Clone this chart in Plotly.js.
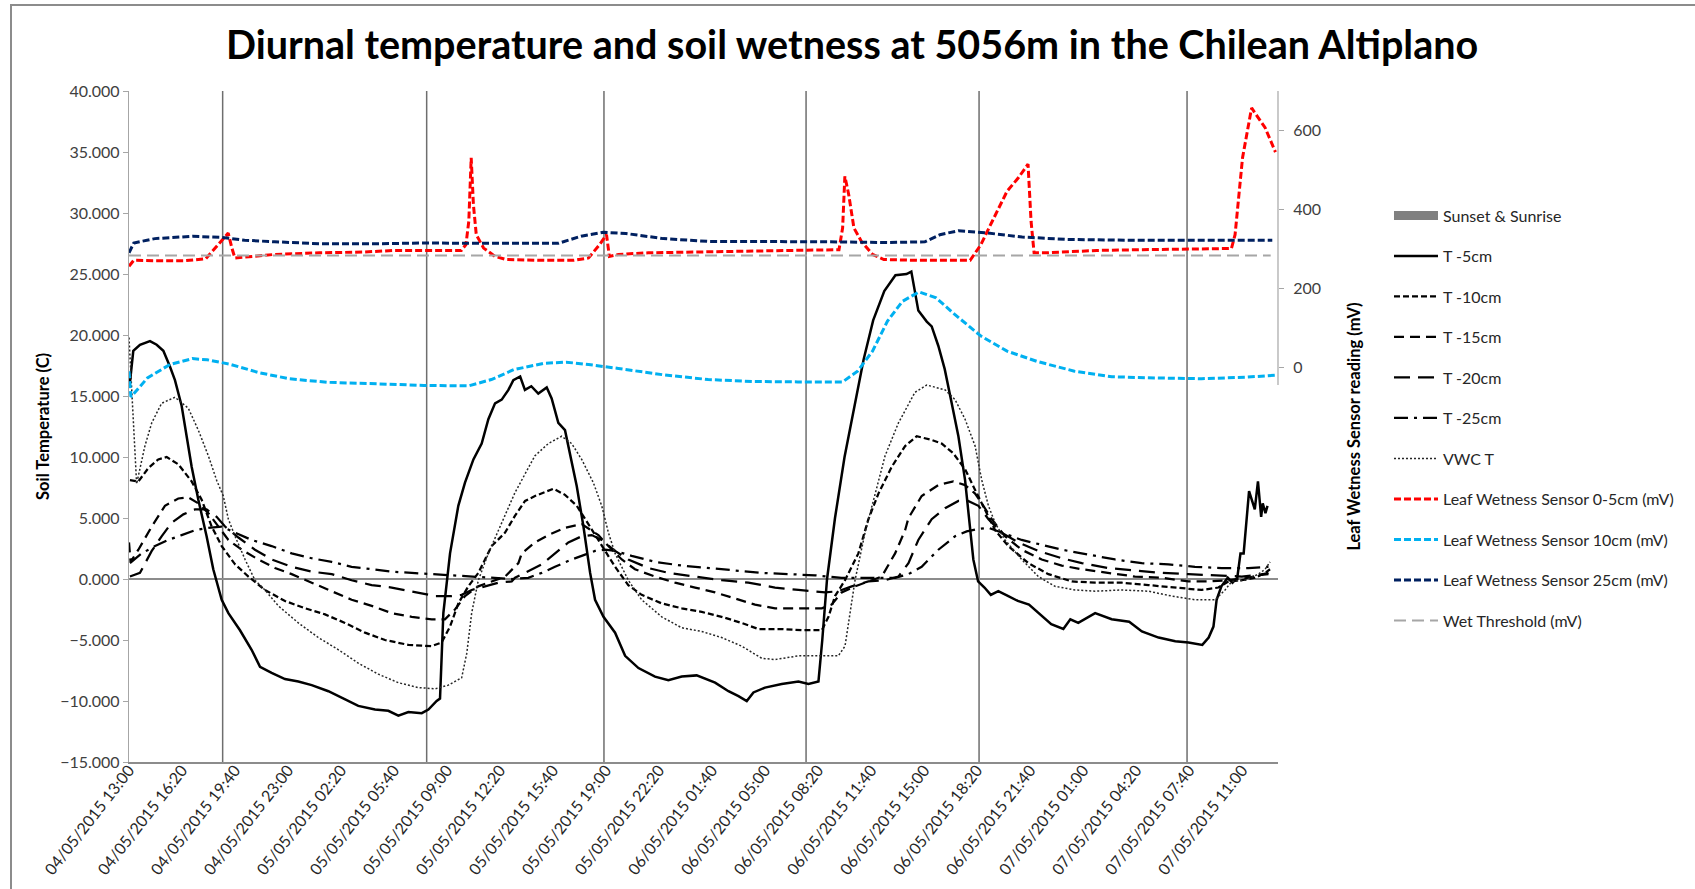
<!DOCTYPE html>
<html><head><meta charset="utf-8">
<script src="https://cdn.plot.ly/plotly-3.0.1.min.js"></script>
<style>
html,body{margin:0;padding:0;background:#fff;}
#frame{position:absolute;left:10px;top:4px;width:1690px;height:890px;border-left:2px solid #8c8c8c;border-top:2px solid #8c8c8c;box-sizing:border-box;}
#chart{position:absolute;left:0;top:0;width:1695px;height:889px;}
</style></head><body>
<div id="frame"></div>
<div id="chart"></div>
<script>
// x values: hours since 04/05/2015 13:00
const tickLabels = ["04/05/2015 13:00","04/05/2015 16:20","04/05/2015 19:40","04/05/2015 23:00","05/05/2015 02:20","05/05/2015 05:40","05/05/2015 09:00","05/05/2015 12:20","05/05/2015 15:40","05/05/2015 19:00","05/05/2015 22:20","06/05/2015 01:40","06/05/2015 05:00","06/05/2015 08:20","06/05/2015 11:40","06/05/2015 15:00","06/05/2015 18:20","06/05/2015 21:40","07/05/2015 01:00","07/05/2015 04:20","07/05/2015 07:40","07/05/2015 11:00"];
const tickHours = [0,3.333,6.667,10,13.333,16.667,20,23.333,26.667,30,33.333,36.667,40,43.333,46.667,50,53.333,56.667,60,63.333,66.667,70];

const sunsetSunrise = [5.89, 18.72, 29.87, 42.58, 53.46, 66.54];

const t5cm = [[0.05,16.0],[0.27,18.7],[0.69,19.2],[1.32,19.5],[1.74,19.2],[2.16,18.7],[2.58,17.4],[2.89,16.3],[3.31,14.2],[3.63,11.7],[3.94,9.2],[4.36,6.5],[4.88,3.5],[5.30,0.8],[5.83,-1.7],[6.25,-2.8],[6.98,-4.2],[7.71,-5.8],[8.24,-7.2],[8.97,-7.7],[9.81,-8.2],[10.65,-8.4],[11.49,-8.7],[12.54,-9.2],[13.58,-9.9],[14.42,-10.4],[15.47,-10.7],[16.31,-10.8],[16.94,-11.2],[17.57,-10.9],[18.41,-11.0],[18.83,-10.7],[19.35,-10.0],[19.56,-9.8],[19.77,-2.8],[20.19,2.1],[20.71,6.0],[21.13,7.9],[21.66,9.8],[22.18,11.1],[22.60,13.1],[23.02,14.4],[23.44,14.7],[23.86,15.5],[24.17,16.3],[24.6,16.6],[24.9,15.5],[25.3,15.8],[25.74,15.2],[26.27,15.7],[26.58,14.8],[27.0,12.8],[27.42,12.2],[27.74,10.1],[28.16,7.6],[28.58,4.3],[29.0,0.5],[29.31,-1.7],[29.84,-3.1],[30.57,-4.4],[31.2,-6.3],[32.04,-7.3],[33.08,-8.0],[33.92,-8.3],[34.76,-8.0],[35.7,-7.9],[36.86,-8.5],[37.7,-9.2],[38.33,-9.6],[38.85,-10.0],[39.27,-9.3],[40.0,-8.9],[41.05,-8.6],[42.1,-8.4],[42.73,-8.6],[43.36,-8.4],[43.6,-5.0],[43.9,0.0],[44.4,5.0],[45.0,10.0],[45.6,14.0],[46.2,18.0],[46.8,21.2],[47.5,23.6],[48.2,24.9],[48.9,25.0],[49.2,25.2],[49.64,22.0],[50.17,21.1],[50.48,20.7],[50.9,19.1],[51.3,17.2],[51.74,14.4],[52.16,11.7],[52.58,8.1],[52.9,4.3],[53.1,1.6],[53.4,-0.2],[53.8,-0.7],[54.2,-1.3],[54.67,-1.0],[55.3,-1.4],[55.9,-1.8],[56.6,-2.1],[57.2,-2.8],[58.0,-3.7],[58.76,-4.1],[59.2,-3.3],[59.7,-3.6],[60.76,-2.8],[61.8,-3.3],[62.9,-3.5],[63.7,-4.3],[64.75,-4.8],[65.8,-5.1],[66.63,-5.2],[67.5,-5.4],[67.9,-4.8],[68.2,-3.9],[68.4,-1.7],[68.7,-0.6],[69.1,0.1],[69.4,-0.3],[69.7,0.1],[69.9,2.1],[70.1,2.1],[70.44,7.2],[70.8,5.7],[71.0,8.0],[71.2,5.1],[71.3,6.2],[71.47,5.4],[71.6,6.0]];

const t10cm = [[0.06,8.1],[0.59,8.0],[1.22,9.1],[1.84,9.8],[2.37,10.0],[3.1,9.4],[3.94,8.0],[4.57,6.5],[5.2,4.3],[5.83,2.7],[6.67,1.2],[7.51,0.2],[8.55,-0.9],[9.81,-1.8],[11.07,-2.4],[12.33,-2.9],[13.58,-3.6],[14.84,-4.4],[16.1,-5.0],[17.57,-5.4],[19.04,-5.5],[19.66,-5.2],[20.19,-3.9],[20.71,-2.0],[21.34,-0.6],[21.97,0.5],[22.81,2.7],[23.65,3.8],[24.28,5.2],[24.91,6.4],[25.53,6.8],[26.69,7.4],[27.42,6.9],[28.16,6.0],[28.89,4.5],[29.73,2.7],[30.57,1.0],[31.4,-0.5],[32.24,-1.3],[33.5,-2.0],[34.76,-2.4],[36.02,-2.7],[37.27,-3.1],[38.53,-3.6],[39.58,-4.1],[41.05,-4.1],[42.31,-4.2],[43.57,-4.2],[43.99,-3.1],[44.4,-1.4],[45.03,-0.1],[45.87,2.1],[46.5,4.9],[47.13,7.0],[47.97,9.2],[48.81,10.9],[49.54,11.7],[50.48,11.4],[51.11,11.1],[51.84,10.3],[52.58,9.0],[53.21,7.3],[53.84,5.7],[54.47,4.0],[55.3,2.7],[56.56,1.3],[57.82,0.4],[59.29,-0.2],[60.76,-0.3],[62.43,-0.3],[64.11,-0.5],[66.0,-0.7],[67.46,-0.9],[68.51,-0.7],[69.14,-0.2],[69.98,-0.1],[70.82,0.1],[71.45,0.5],[71.76,0.8]];

const t15cm = [[0.0,3.0],[0.1,1.4],[0.59,2.4],[1.43,4.3],[2.26,6.0],[3.1,6.6],[3.73,6.7],[4.36,6.2],[4.99,5.4],[5.62,4.3],[6.25,3.2],[7.09,2.4],[8.13,1.6],[9.18,0.9],[10.23,0.4],[11.49,-0.3],[12.75,-1.0],[14.0,-1.7],[15.26,-2.2],[16.52,-2.8],[17.78,-3.1],[19.04,-3.3],[19.87,-3.3],[20.5,-2.5],[21.13,-1.4],[21.97,-0.6],[22.81,-0.2],[23.65,0.2],[24.49,1.3],[24.7,2.1],[25.53,3.0],[26.37,3.6],[27.42,4.2],[28.47,4.5],[29.52,3.6],[30.15,2.7],[30.99,1.6],[31.82,0.8],[33.08,0.2],[34.34,-0.3],[35.6,-0.7],[36.86,-1.1],[38.11,-1.6],[39.37,-2.1],[40.63,-2.4],[42.1,-2.4],[43.57,-2.4],[44.19,-2.1],[44.82,-1.1],[45.66,-0.6],[46.5,-0.2],[47.34,0.2],[48.18,2.1],[48.81,4.0],[49.02,5.0],[49.85,6.8],[50.9,7.7],[51.84,8.0],[52.58,7.7],[53.21,7.0],[53.73,6.0],[54.26,4.9],[55.09,3.5],[56.14,2.4],[57.4,1.6],[58.66,1.1],[59.92,0.8],[61.59,0.5],[63.27,0.2],[64.95,0.1],[66.63,-0.2],[67.88,-0.2],[69.14,-0.1],[70.4,0.1],[71.66,0.5]];

const t20cm = [[0.06,0.2],[0.69,0.5],[1.43,2.3],[2.05,3.5],[2.68,4.6],[3.42,5.3],[4.15,5.7],[4.88,5.7],[5.51,5.1],[6.04,4.3],[6.88,3.4],[7.92,2.4],[8.97,1.6],[10.23,1.0],[11.49,0.6],[12.75,0.4],[14.0,-0.1],[15.26,-0.5],[16.52,-0.7],[17.99,-1.1],[19.25,-1.4],[20.29,-1.4],[20.92,-1.3],[21.55,-0.9],[22.39,-0.6],[23.23,-0.3],[24.07,-0.2],[24.28,0.1],[25.95,1.2],[26.79,2.1],[27.63,3.0],[28.47,3.5],[29.1,3.6],[29.73,3.2],[30.57,2.3],[31.4,1.6],[32.66,0.9],[33.92,0.5],[35.6,0.2],[37.27,-0.1],[38.95,-0.3],[40.63,-0.7],[42.1,-0.9],[43.78,-1.1],[44.61,-1.0],[45.45,-0.6],[46.5,-0.2],[47.55,-0.1],[48.39,0.2],[49.02,1.3],[49.64,3.2],[50.48,4.9],[51.32,5.8],[52.16,6.4],[52.77,6.4],[53.42,6.0],[54.05,4.9],[54.88,3.8],[55.93,3.0],[57.19,2.3],[58.66,1.7],[59.92,1.3],[61.59,0.9],[63.27,0.7],[64.95,0.5],[66.63,0.4],[68.3,0.3],[69.98,0.2],[71.66,0.4]];

const t25cm = [[0.06,1.3],[0.8,2.1],[1.64,2.7],[2.47,3.2],[3.31,3.6],[4.15,4.0],[4.99,4.2],[5.83,4.3],[6.67,3.8],[7.71,3.2],[8.97,2.7],[10.23,2.1],[11.49,1.7],[12.75,1.4],[14.0,1.0],[15.26,0.8],[16.52,0.6],[17.78,0.5],[19.04,0.4],[20.29,0.3],[21.55,0.2],[22.81,0.1],[24.07,0.0],[25.11,0.1],[25.95,0.5],[26.79,1.0],[27.84,1.6],[28.68,2.0],[29.31,2.3],[29.94,2.4],[30.57,2.3],[31.61,1.9],[33.08,1.4],[34.76,1.1],[36.44,0.9],[38.11,0.7],[39.79,0.5],[41.47,0.4],[43.15,0.3],[44.82,0.1],[46.5,0.1],[48.18,0.1],[49.02,0.4],[49.85,1.0],[50.9,2.4],[51.95,3.5],[52.68,3.9],[53.42,4.1],[54.05,4.2],[54.88,3.8],[56.14,3.2],[57.4,2.8],[58.66,2.4],[60.34,2.0],[62.01,1.6],[63.69,1.3],[65.37,1.2],[67.04,1.0],[68.72,0.9],[70.4,0.9],[71.66,1.0]];

const vwcT = [[0.0,19.8],[0.48,7.8],[1.0,10.9],[1.43,12.8],[2.05,14.4],[2.89,14.9],[3.73,14.0],[4.36,12.2],[4.99,10.1],[5.51,8.1],[5.93,6.8],[6.25,4.9],[6.67,3.5],[7.30,1.6],[7.92,-0.1],[8.55,-0.9],[9.39,-2.2],[10.65,-3.6],[11.91,-4.8],[13.17,-5.8],[14.42,-6.9],[15.68,-7.8],[16.94,-8.5],[18.2,-8.9],[19.25,-9.0],[20.08,-8.7],[20.92,-8.1],[21.24,-6.1],[21.55,-2.8],[21.97,-0.1],[22.6,2.1],[23.44,4.6],[24.28,7.1],[25.53,10.1],[26.37,11.1],[27.21,11.7],[27.84,11.1],[28.47,9.8],[29.2,7.9],[29.73,6.0],[30.15,3.8],[30.57,2.1],[31.4,-0.1],[32.24,-1.7],[33.5,-3.1],[34.76,-4.0],[36.02,-4.3],[37.27,-4.8],[38.53,-5.5],[39.79,-6.5],[40.63,-6.6],[42.1,-6.3],[43.15,-6.3],[44.61,-6.3],[45.03,-5.5],[45.35,-2.8],[45.66,-0.1],[46.29,3.8],[46.92,7.0],[47.55,10.1],[48.39,12.8],[49.43,15.3],[50.17,15.9],[51.33,15.5],[51.95,14.7],[52.58,13.1],[53.21,10.9],[53.63,8.1],[54.05,6.0],[54.47,4.6],[55.09,3.2],[56.14,1.6],[57.19,0.2],[58.24,-0.6],[59.5,-0.9],[60.76,-1.0],[62.43,-0.9],[64.11,-1.0],[65.58,-1.4],[67.04,-1.7],[68.3,-1.7],[68.93,-0.9],[69.35,-0.2],[70.19,-0.1],[71.03,0.4],[71.45,0.8],[71.76,1.4]];

const leaf05 = [[0,256],[0.3,271],[1.63,270],[3.51,270],[4.83,275],[5.63,311],[6.24,340],[6.47,302],[6.66,277],[7.27,279],[9.15,286],[11.97,290],[14.79,292],[16.67,296],[20.9,296],[21.19,311],[21.37,370],[21.52,531],[21.66,412],[21.84,336],[22.3,302],[23.02,281],[23.73,273],[26.08,271],[27.96,271],[28.9,277],[29.6,311],[30.03,336],[30.21,281],[30.78,286],[32.66,290],[35.48,292],[38.3,294],[41.12,296],[44.65,298],[44.88,353],[45.02,484],[45.26,438],[45.59,353],[46.06,319],[46.76,286],[47.47,273],[49.58,271],[52.9,271],[53.58,311],[54.29,370],[55.22,446],[55.93,480],[56.54,515],[56.73,370],[56.92,290],[57.58,290],[60.87,296],[63.69,298],[66.51,300],[69.33,301],[69.56,336],[69.8,429],[70.03,531],[70.6,657],[71.45,607],[72.1,545]];

const leaf10 = [[0,-10],[0.12,-75],[1.16,-27],[2.57,7],[3.98,22],[4.92,19],[6.33,8],[8.21,-14],[10.09,-29],[12.44,-38],[15.73,-42],[18.55,-46],[21.37,-47],[22.79,-31],[24.2,-6],[26.08,10],[27.49,13],[28.9,7],[30.78,-3],[33.6,-19],[36.42,-31],[39.24,-36],[42.06,-37],[44.88,-37],[45.82,-10],[46.76,41],[47.7,117],[48.64,167],[49.68,191],[50.76,176],[51.93,134],[53.58,79],[55.22,41],[57.1,15],[59.46,-10],[61.81,-24],[64.63,-27],[67.45,-29],[70.27,-25],[72.1,-20]];

const leaf25 = [[0,290],[0.3,315],[1.63,326],[4.0,332],[5.86,329],[7.27,322],[9.15,318],[11.97,313],[15.73,313],[18.55,315],[22.3,314],[27.0,314],[28.43,332],[29.84,342],[31.25,339],[33.6,326],[36.42,319],[40.18,319],[43.94,318],[47.7,316],[50.05,318],[51.0,336],[52.17,346],[53.82,341],[56.17,330],[58.99,324],[62.75,322],[66.51,322],[70.27,322],[71.9,322]];

const wetThreshold = [[0,283],[71.8,283]];

const FONT = 'Lato, "Open Sans", sans-serif';
const xs = a => a.map(p => p[0]);
const ys = a => a.map(p => p[1]);

function line(name, data, color, width, dash, axis) {
  return {type:'scatter', mode:'lines', name, x:xs(data), y:ys(data), yaxis:axis||'y',
    line:{color, width, dash}, legendgroup:name, hoverinfo:'skip'};
}

const traces = [
  {type:'scatter', mode:'lines', name:'Sunset & Sunrise', x:[null], y:[null],
   line:{color:'#808080', width:9}, legendgroup:'sun', hoverinfo:'skip'},
  line('T -5cm', t5cm, '#000000', 2.5, 'solid'),
  line('T -10cm', t10cm, '#000000', 2.25, '6px,3px'),
  line('T -15cm', t15cm, '#000000', 2.25, '10px,6px'),
  line('T -20cm', t20cm, '#000000', 2.25, '16px,8px'),
  line('T -25cm', t25cm, '#000000', 2.25, '14px,6px,3px,6px'),
  line('VWC T', vwcT, '#262626', 1.5, '2px,2px'),
  line('Leaf Wetness Sensor 0-5cm (mV)', leaf05, '#ff0000', 3, '7px,3px', 'y2'),
  line('Leaf Wetness Sensor 10cm (mV)', leaf10, '#00b0f0', 3, '7px,3px', 'y2'),
  line('Leaf Wetness Sensor 25cm (mV)', leaf25, '#002060', 3, '7px,3px', 'y2'),
  line('Wet Threshold (mV)', wetThreshold, '#a6a6a6', 2, '12px,6px', 'y2')
];

const shapes = sunsetSunrise.map(t => ({type:'line', xref:'x', yref:'paper', x0:t, x1:t, y0:0, y1:1,
  line:{color:'#6e6e6e', width:1.5}, layer:'below'}));
shapes.push({type:'line', xref:'paper', yref:'y2', x0:1, x1:1, y0:-45, y1:700, line:{color:'#a6a6a6', width:1.2}});

const layout = {
  width:1695, height:889,
  margin:{l:129, r:417, t:91, b:127},
  paper_bgcolor:'rgba(0,0,0,0)', plot_bgcolor:'rgba(0,0,0,0)',
  font:{family:FONT, color:'#404040'},
  showlegend:true,
  title:{text:'Diurnal temperature and soil wetness at 5056m in the Chilean Altiplano',
    font:{family:FONT, size:39.5, color:'#000000', weight:'bold'},
    xref:'container', yref:'container', x:0.5027, y:0.949, xanchor:'center', yanchor:'middle'},
  xaxis:{type:'linear', range:[0,72.26], tickmode:'array', tickvals:tickHours, ticktext:tickLabels,
    tickangle:-52, tickfont:{family:FONT, size:16, color:'#262626'}, showgrid:false, zeroline:false,
    showline:true, linecolor:'#8c8c8c', linewidth:1.5, ticks:'', ticklabelstandoff:-9,
    automargin:false, fixedrange:true},
  yaxis:{range:[-15,40], dtick:5, tick0:0, tickformat:'.3f', showgrid:false, zeroline:true,
    zerolinecolor:'#8c8c8c', zerolinewidth:1.5, showline:true, linecolor:'#a6a6a6', linewidth:1.2,
    ticks:'outside', ticklen:5, tickcolor:'#a6a6a6', tickfont:{family:FONT, size:16, color:'#404040'},
    title:{text:'Soil Temperature (C)', font:{family:FONT, size:16.5, color:'#000000', weight:'bold'}, standoff:6},
    automargin:false},
  yaxis2:{overlaying:'y', side:'right', range:[-1000,700], tickmode:'array', tickvals:[0,200,400,600],
    showgrid:false, zeroline:false, showline:false, ticks:'outside', ticklen:5, tickcolor:'#a6a6a6',
    ticklabelstandoff:6,
    tickfont:{family:FONT, size:16, color:'#404040'},
    title:{text:'Leaf Wetness Sensor reading (mV)', font:{family:FONT, size:16.5, color:'#000000', weight:'bold'}, standoff:28},
    automargin:false},
  legend:{x:1.0966, xanchor:'left', y:0.8398, yanchor:'top', font:{family:FONT, size:16, color:'#262626'},
    itemwidth:44, tracegroupgap:16.7, traceorder:'grouped', bgcolor:'rgba(0,0,0,0)'},
  shapes
};

Plotly.newPlot('chart', traces, layout, {displayModeBar:false, staticPlot:true});
</script>
</body></html>
